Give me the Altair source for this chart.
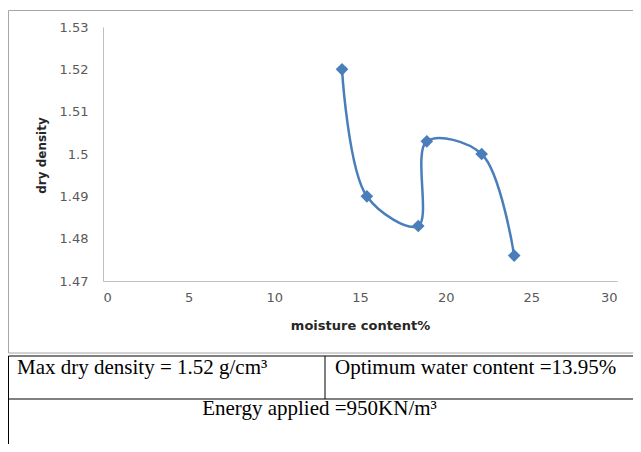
import altair as alt
import pandas as pd

# Data
moisture = [13.95, 15.4, 18.4, 18.9, 22.1, 24.0]
dry_density = [1.52, 1.49, 1.483, 1.503, 1.5, 1.476]
x_ticks = [0, 5, 10, 15, 20, 25, 30]
y_ticks = [1.47, 1.48, 1.49, 1.5, 1.51, 1.52, 1.53]
x_title = "moisture content%"
y_title = "dry density"
cell_max = "Max dry density = 1.52 g/cm³"
cell_opt = "Optimum water content =13.95%"
cell_energy = "Energy applied =950KN/m³"

df = pd.DataFrame({"moisture": moisture, "density": dry_density})
BLUE = "#4A7EBB"

base = alt.Chart(df).encode(
    x=alt.X(
        "moisture:Q",
        scale=alt.Scale(domain=[0, 30], nice=False, zero=False),
        axis=alt.Axis(
            values=x_ticks, format="~g", title=x_title, labelPadding=10,
            titleX=257, titleY=44, titleBaseline="middle", titleAlign="center",
            titleFontSize=13,
        ),
    ),
    y=alt.Y(
        "density:Q",
        scale=alt.Scale(domain=[1.47, 1.53], nice=False, zero=False),
        axis=alt.Axis(
            values=y_ticks, format="~g", title=y_title, labelPadding=15,
            titleX=-62, titleY=128, titleBaseline="middle", titleAlign="center",
            titleAngle=270, titleFontSize=12,
        ),
    ),
)

line = base.mark_line(interpolate="catmull-rom", color=BLUE, strokeWidth=2.5)
pts = base.mark_point(shape="diamond", filled=True, size=160, color=BLUE, opacity=1)

one = alt.Data(values=[{"k": 0}])


def hrule(x1, x2, y, color):
    return alt.Chart(one).mark_rule(color=color, strokeWidth=1).encode(
        x=alt.value(x1), x2=alt.value(x2), y=alt.value(y)
    )


def vrule(x, y1, y2, color):
    return alt.Chart(one).mark_rule(color=color, strokeWidth=1).encode(
        x=alt.value(x), y=alt.value(y1), y2=alt.value(y2)
    )


def cell(txt, x, y, align):
    return alt.Chart(one).mark_text(
        text=txt, font="Liberation Serif", fontSize=21, color="#000000",
        align=align, baseline="alphabetic",
    ).encode(x=alt.value(x), y=alt.value(y))


GRAY = "#a6a6a6"
RIGHT = 532
deco = [
    hrule(-94.5, RIGHT, -16.5, GRAY),
    vrule(-94.5, -16.5, 326, GRAY),
    hrule(-94.5, RIGHT, 326, GRAY),
    hrule(-94.5, RIGHT, 329, "#000000"),
    vrule(222, 329, 372, "#000000"),
    hrule(-94.5, RIGHT, 372, "#000000"),
    vrule(-94.5, 329, 420, "#000000"),
    cell(cell_max, -86, 347, "left"),
    cell(cell_opt, 232, 347, "left"),
    cell(cell_energy, 216.5, 388, "center"),
]

chart = alt.layer(line, pts, *deco).properties(
    width=514, height=254,
    padding={"left": 95, "top": 19, "right": 16, "bottom": 163},
    autosize=alt.AutoSizeParams(type="none"),
    background="white",
).configure_view(stroke=None).configure_axis(
    grid=False, ticks=False, domainColor="#bfbfbf", domainWidth=1,
    labelFont="DejaVu Sans", labelFontSize=13, labelColor="#595959",
    titleFont="DejaVu Sans", titleFontWeight="bold",
    titleColor="#262626",
)

chart.save("out.html", embed_options={"renderer": "svg", "actions": False})
